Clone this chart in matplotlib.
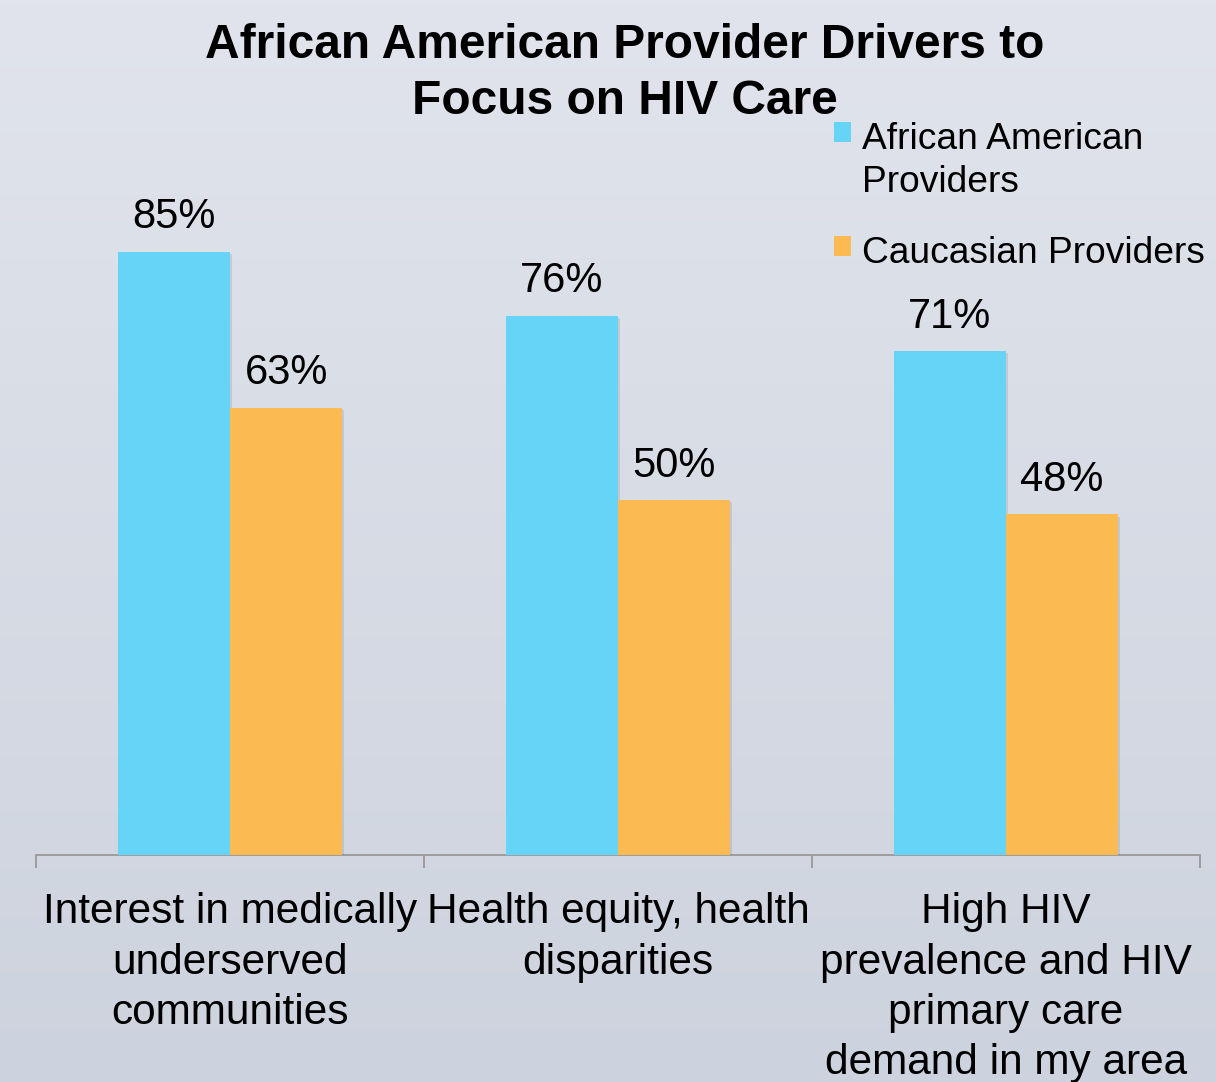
import numpy as np
import matplotlib
matplotlib.use("Agg")
import matplotlib.pyplot as plt
from matplotlib import patheffects as pe

plt.rcParams['font.family'] = ['Liberation Sans', 'DejaVu Sans']

# Survey data
categories = ["Interest in medically\nunderserved\ncommunities",
              "Health equity, health\ndisparities",
              "High HIV\nprevalence and HIV\nprimary care\ndemand in my area"]
series_names = ["African American\nProviders", "Caucasian Providers"]
african_american = [85, 76, 71]
caucasian = [63, 50, 48]

colors = ["#66D4F6", "#FCBB52"]

W, H = 1216, 1082
fig = plt.figure(figsize=(W / 100, H / 100), dpi=100)

# Soft vertical gradient background
bg = fig.add_axes([0, 0, 1, 1], zorder=-10)
grad = np.linspace(0, 1, 256).reshape(-1, 1)
top_c = np.array([0xE1, 0xE4, 0xEC]) / 255
bot_c = np.array([0xCD, 0xD3, 0xDE]) / 255
img = top_c[None, None, :] * (1 - grad[..., None]) + bot_c[None, None, :] * grad[..., None]
bg.imshow(img, aspect='auto', extent=[0, 1, 0, 1])
bg.set_axis_off()

ax = fig.add_axes([36 / W, 1 - 855 / H, (1200 - 36) / W, (855 - 145.6) / H])
ax.patch.set_alpha(0)

x = np.arange(len(categories))
bw = 0.289
shadow = [pe.SimplePatchShadow(offset=(1.5, -1.5), alpha=0.15, shadow_rgbFace='#555555'), pe.Normal()]
b1 = ax.bar(x - bw / 2, african_american, bw, color=colors[0], label=series_names[0],
            path_effects=shadow, zorder=3)
b2 = ax.bar(x + bw / 2, caucasian, bw, color=colors[1], label=series_names[1],
            path_effects=shadow, zorder=3)

for bars, vals in ((b1, african_american), (b2, caucasian)):
    for rect, v in zip(bars, vals):
        ax.annotate(f"{v}%", (rect.get_x() + rect.get_width() / 2, v),
                    xytext=(0, 25), textcoords='offset points',
                    ha='center', va='center', fontsize=30, color='black')

ax.set_xlim(-0.5, len(categories) - 0.5)
ax.set_ylim(0, 100)
ax.set_yticks([])
for s in ('top', 'right', 'left'):
    ax.spines[s].set_visible(False)
ax.spines['bottom'].set_color('#999999')
ax.spines['bottom'].set_linewidth(1.3)

ax.set_xticks(x)
ax.set_xticklabels(categories, fontsize=30.5, linespacing=1.33)
ax.tick_params(axis='x', which='major', length=0, pad=27)
ax.set_xticks(np.arange(-0.5, len(categories)), minor=True)
ax.tick_params(axis='x', which='minor', length=9, width=1.3, color='#999999', direction='out')

fig.text(625 / W, 1 - 73.5 / H, "African American Provider Drivers to\nFocus on HIV Care",
         ha='center', va='center', fontsize=34.5, fontweight='bold', linespacing=1.32)

leg = fig.legend(handles=[b1, b2], loc='upper left',
                 bbox_to_anchor=(834 / W, 1 - 122 / H), frameon=False,
                 fontsize=26.7, handlelength=0.45, handleheight=0.45,
                 handletextpad=0.3, labelspacing=0.98, borderpad=0, borderaxespad=0)
for t in leg.get_texts():
    t.set_linespacing(1.3)
for h in leg.legend_handles:
    h.set_path_effects([])
# put each swatch level with the first line of its label
for col in leg._legend_handle_box.get_children():
    for item in col.get_children():
        item.align = 'top'

fig.savefig("out.png", dpi=100)
